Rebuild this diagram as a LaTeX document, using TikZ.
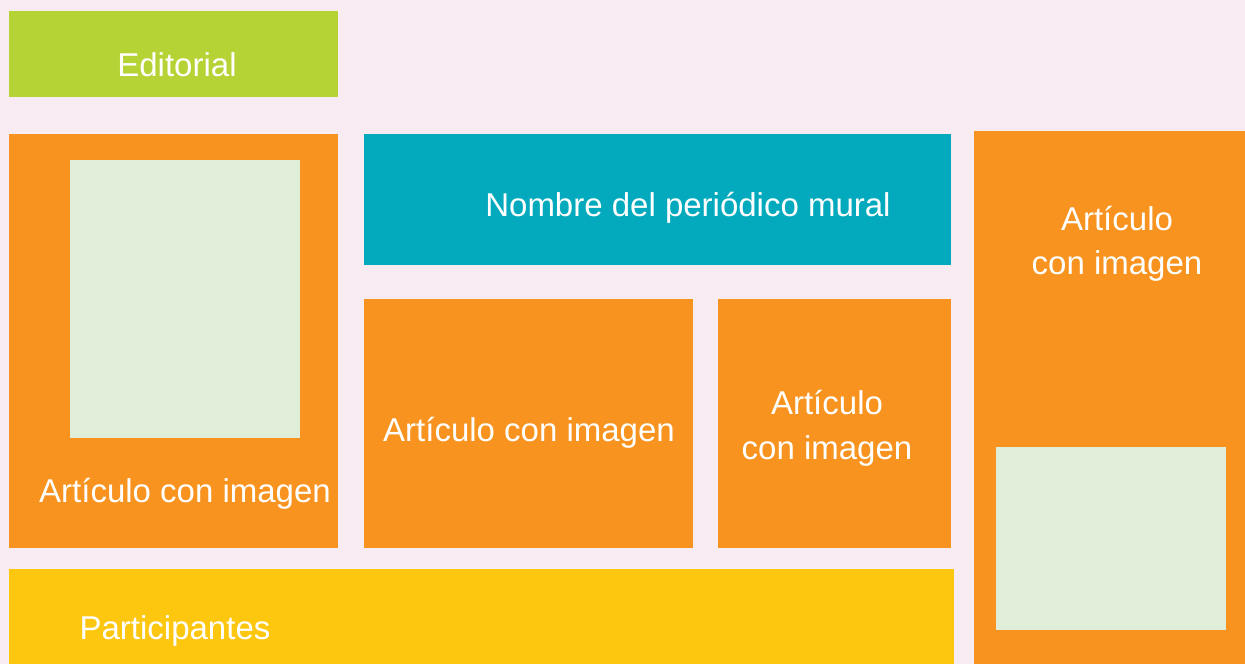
\documentclass[tikz,border=0pt]{standalone}
\usepackage{fontspec}
\setmainfont{Liberation Sans}
\definecolor{fondo}{HTML}{F8ECF2}
\definecolor{verde}{HTML}{B5D334}
\definecolor{naranja}{HTML}{F7931E}
\definecolor{turquesa}{HTML}{03AABD}
\definecolor{amarillo}{HTML}{FDC60F}
\definecolor{verdeclaro}{HTML}{E0EED9}
\tikzset{
	texto/.style={text=white, anchor=base, inner sep=0pt, font=\fontsize{33}{40}\selectfont}
}
\begin{document}
\begin{tikzpicture}[x=1pt,y=-1pt]
	\fill[fondo] (0,0) rectangle (1245,664);
	% recuadros
	\fill[verde]      (9,11)    rectangle (338,97);
	\fill[naranja]    (9,134)   rectangle (338,548);
	\fill[verdeclaro] (70,160)  rectangle (300,438);
	\fill[turquesa]   (364,134) rectangle (951,265);
	\fill[naranja]    (364,299) rectangle (693,548);
	\fill[naranja]    (718,299) rectangle (951,548);
	\fill[naranja]    (974,131) rectangle (1245,664);
	\fill[verdeclaro] (996,447) rectangle (1226,630);
	\fill[amarillo]   (9,569)   rectangle (954,664);
	% textos
	\node[texto] (editorial) at (177,76)   {Editorial};
	\node[texto] (nombre)    at (688,216)  {Nombre del periódico mural};
	\node[texto] (art1)      at (185,502)  {Artículo con imagen};
	\node[texto] (art2)      at (529,441)  {Artículo con imagen};
	\node[texto] (art3a)     at (827,414)  {Artículo};
	\node[texto] (art3b)     at (827,459)  {con imagen};
	\node[texto] (art4a)     at (1117,230) {Artículo};
	\node[texto] (art4b)     at (1117,274) {con imagen};
	\node[texto] (partic)    at (175,639)  {Participantes};
\end{tikzpicture}
\end{document}
